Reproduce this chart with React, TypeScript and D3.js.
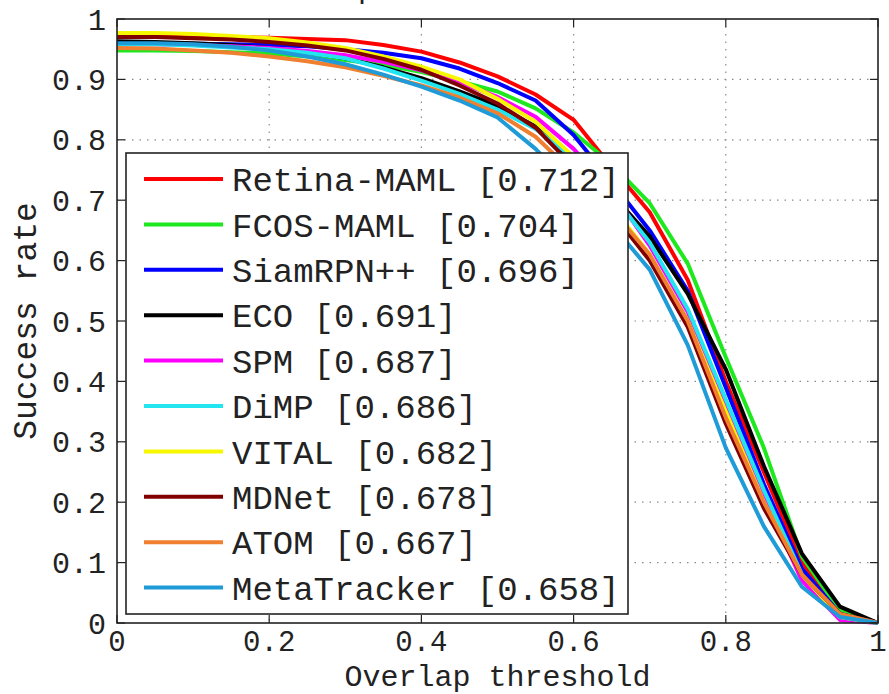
import React from "react";
import * as d3 from "d3";

const thresholds = [0, 0.05, 0.1, 0.15, 0.2, 0.25, 0.3, 0.35, 0.4, 0.45, 0.5, 0.55, 0.6, 0.65, 0.7, 0.75, 0.8, 0.85, 0.9, 0.95, 1];

const retinaMAML = [0.972, 0.972, 0.971, 0.970, 0.969, 0.967, 0.965, 0.957, 0.946, 0.928, 0.905, 0.875, 0.833, 0.755, 0.680, 0.568, 0.400, 0.250, 0.100, 0.020, 0.000];
const fcosMAML = [0.948, 0.948, 0.947, 0.945, 0.943, 0.938, 0.932, 0.924, 0.912, 0.897, 0.880, 0.852, 0.812, 0.760, 0.695, 0.595, 0.440, 0.290, 0.110, 0.020, 0.000];
const siamRPN = [0.960, 0.960, 0.959, 0.958, 0.957, 0.955, 0.950, 0.944, 0.935, 0.918, 0.894, 0.865, 0.808, 0.730, 0.650, 0.550, 0.390, 0.230, 0.090, 0.015, 0.000];
const eco = [0.963, 0.962, 0.960, 0.957, 0.952, 0.945, 0.935, 0.920, 0.902, 0.880, 0.856, 0.822, 0.762, 0.710, 0.640, 0.545, 0.420, 0.260, 0.115, 0.027, 0.000];
const spm = [0.958, 0.958, 0.957, 0.955, 0.952, 0.947, 0.940, 0.929, 0.915, 0.895, 0.871, 0.838, 0.785, 0.715, 0.625, 0.515, 0.360, 0.210, 0.070, 0.005, 0.000];
const dimp = [0.958, 0.958, 0.956, 0.953, 0.950, 0.944, 0.935, 0.918, 0.898, 0.876, 0.850, 0.818, 0.770, 0.710, 0.630, 0.520, 0.370, 0.220, 0.080, 0.010, 0.000];
const vital = [0.977, 0.977, 0.975, 0.972, 0.968, 0.961, 0.952, 0.938, 0.921, 0.900, 0.868, 0.830, 0.772, 0.690, 0.610, 0.500, 0.350, 0.200, 0.080, 0.010, 0.000];
const mdnet = [0.970, 0.970, 0.968, 0.966, 0.962, 0.956, 0.948, 0.934, 0.916, 0.890, 0.860, 0.820, 0.755, 0.680, 0.600, 0.490, 0.330, 0.190, 0.080, 0.015, 0.000];
const atom = [0.952, 0.951, 0.948, 0.944, 0.938, 0.930, 0.920, 0.906, 0.890, 0.870, 0.844, 0.805, 0.745, 0.685, 0.610, 0.500, 0.340, 0.200, 0.080, 0.015, 0.000];
const metaTracker = [0.960, 0.960, 0.958, 0.954, 0.948, 0.938, 0.925, 0.908, 0.888, 0.865, 0.837, 0.785, 0.720, 0.660, 0.585, 0.460, 0.290, 0.160, 0.060, 0.010, 0.000];

const seriesNames = ["Retina-MAML", "FCOS-MAML", "SiamRPN++", "ECO", "SPM", "DiMP", "VITAL", "MDNet", "ATOM", "MetaTracker"];
const seriesScores = ["0.712", "0.704", "0.696", "0.691", "0.687", "0.686", "0.682", "0.678", "0.667", "0.658"];
const seriesValues = [retinaMAML, fcosMAML, siamRPN, eco, spm, dimp, vital, mdnet, atom, metaTracker];
const seriesColors = ["#ff0000", "#1ee81e", "#0000ff", "#000000", "#ff00ff", "#22e5f0", "#f7f700", "#800000", "#f07f30", "#1f9bd7"];

const xTicks = [0, 0.2, 0.4, 0.6, 0.8, 1];
const xTickLabels = ["0", "0.2", "0.4", "0.6", "0.8", "1"];
const yTicks = [0, 0.1, 0.2, 0.3, 0.4, 0.5, 0.6, 0.7, 0.8, 0.9, 1];
const yTickLabels = ["0", "0.1", "0.2", "0.3", "0.4", "0.5", "0.6", "0.7", "0.8", "0.9", "1"];

const W = 889;
const H = 694;
const M = { left: 117, right: 878, top: 19, bottom: 623 };
const FONT = "'Liberation Mono', 'DejaVu Sans Mono', monospace";

export default function App() {
  const x = d3.scaleLinear().domain([0, 1]).range([M.left, M.right]);
  const y = d3.scaleLinear().domain([0, 1]).range([M.bottom, M.top]);
  const line = d3
    .line<number>()
    .x((_, i) => x(thresholds[i]))
    .y((d) => y(d));

  const legend = { left: 126, top: 153, right: 628, bottom: 614, row0: 179, step: 45.4 };

  return (
    <div style={{ position: "absolute", left: 0, top: 0 }}>
      <svg width={W} height={H} style={{ display: "block", background: "#fff" }}>
        <rect x={0} y={0} width={W} height={H} fill="#fff" />
        {/* title (cropped at the top edge) */}
        <text x={214} y={-2} fontFamily={FONT} fontSize={30} fill="#222">
          Success plots of OPE
        </text>
        {/* grid */}
        {yTicks.slice(1, -1).map((t) => (
          <line key={"gy" + t} x1={M.left} x2={M.right} y1={y(t)} y2={y(t)} stroke="#8a8a8a" strokeWidth={1.2} strokeDasharray="1.5,6" />
        ))}
        {xTicks.slice(1, -1).map((t) => (
          <line key={"gx" + t} x1={x(t)} x2={x(t)} y1={M.top} y2={M.bottom} stroke="#8a8a8a" strokeWidth={1.2} strokeDasharray="1.5,6" />
        ))}
        <defs>
          <clipPath id="plotclip">
            <rect x={M.left - 2} y={M.top - 4} width={M.right - M.left + 4} height={M.bottom - M.top + 6} />
          </clipPath>
        </defs>
        {/* curves */}
        <g clipPath="url(#plotclip)">
          {seriesValues.map((vals, i) => (
            <path key={seriesNames[i]} d={line(vals) || ""} fill="none" stroke={seriesColors[i]} strokeWidth={4} strokeLinejoin="round" />
          ))}
        </g>
        {/* ticks */}
        {xTicks.map((t) => (
          <g key={"tx" + t}>
            <line x1={x(t)} x2={x(t)} y1={M.bottom} y2={M.bottom - 8} stroke="#222" strokeWidth={1.2} />
            <line x1={x(t)} x2={x(t)} y1={M.top} y2={M.top + 8} stroke="#222" strokeWidth={1.2} />
          </g>
        ))}
        {yTicks.map((t) => (
          <g key={"ty" + t}>
            <line x1={M.left} x2={M.left + 8} y1={y(t)} y2={y(t)} stroke="#222" strokeWidth={1.2} />
            <line x1={M.right} x2={M.right - 8} y1={y(t)} y2={y(t)} stroke="#222" strokeWidth={1.2} />
          </g>
        ))}
        {/* axes box */}
        <rect x={M.left} y={M.top} width={M.right - M.left} height={M.bottom - M.top} fill="none" stroke="#222" strokeWidth={1.6} />
        {/* tick labels */}
        {xTicks.map((t, i) => (
          <text key={"lx" + t} x={x(t)} y={651} textAnchor="middle" fontFamily={FONT} fontSize={29} fill="#222">
            {xTickLabels[i]}
          </text>
        ))}
        {yTicks.map((t, i) => (
          <text key={"ly" + t} x={106} y={y(t)} dy="0.35em" textAnchor="end" fontFamily={FONT} fontSize={30} fill="#222">
            {yTickLabels[i]}
          </text>
        ))}
        {/* axis labels */}
        <text x={(M.left + M.right) / 2} y={686} textAnchor="middle" fontFamily={FONT} fontSize={30} fill="#222">
          Overlap threshold
        </text>
        <text transform={`translate(36, ${(M.top + M.bottom) / 2}) rotate(-90)`} textAnchor="middle" fontFamily={FONT} fontSize={33} fill="#222">
          Success rate
        </text>
        {/* legend */}
        <rect x={legend.left} y={legend.top} width={legend.right - legend.left} height={legend.bottom - legend.top} fill="#fff" stroke="#222" strokeWidth={1.6} />
        {seriesNames.map((name, i) => {
          const cy = legend.row0 + legend.step * i;
          return (
            <g key={"lg" + name}>
              <line x1={144} x2={223} y1={cy} y2={cy} stroke={seriesColors[i]} strokeWidth={4} />
              <text x={232} y={cy} dy="0.36em" fontFamily={FONT} fontSize={34} fill="#222">
                {`${name} [${seriesScores[i]}]`}
              </text>
            </g>
          );
        })}
      </svg>
    </div>
  );
}
